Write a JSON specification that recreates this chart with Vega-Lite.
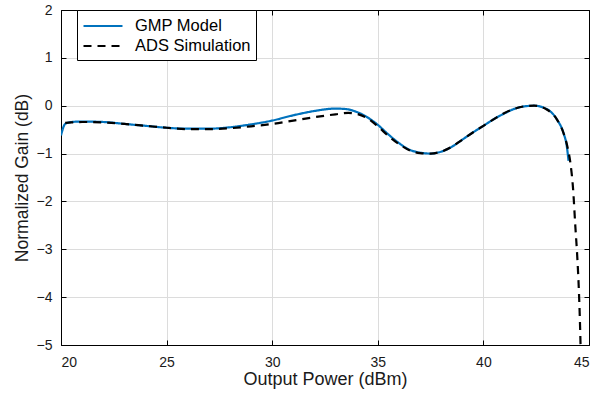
{
  "$schema": "https://vega.github.io/schema/vega-lite/v6.json",
  "autosize": {"type": "none"},
  "padding": {"left": 61, "top": 10, "right": 22, "bottom": 51},
  "width": 528,
  "height": 335,
  "background": "white",
  "config": {
    "font": "Liberation Sans",
    "view": {"stroke": "black", "strokeWidth": 1},
    "axis": {
      "labelFont": "Liberation Sans",
      "titleFont": "Liberation Sans",
      "labelFontSize": 14,
      "titleFontWeight": "normal",
      "labelColor": "#1a1a1a",
      "titleColor": "#1a1a1a",
      "domainColor": "black",
      "tickColor": "black",
      "gridColor": "#dcdcdc",
      "gridWidth": 1
    }
  },
  "data": {
    "values": [
      {"x": 20.0, "y": -0.62, "s": "GMP Model"},
      {"x": 20.2, "y": -0.38, "s": "GMP Model"},
      {"x": 20.5, "y": -0.34, "s": "GMP Model"},
      {"x": 21, "y": -0.33, "s": "GMP Model"},
      {"x": 22, "y": -0.34, "s": "GMP Model"},
      {"x": 23, "y": -0.38, "s": "GMP Model"},
      {"x": 24, "y": -0.42, "s": "GMP Model"},
      {"x": 25, "y": -0.46, "s": "GMP Model"},
      {"x": 26, "y": -0.48, "s": "GMP Model"},
      {"x": 27, "y": -0.48, "s": "GMP Model"},
      {"x": 28, "y": -0.45, "s": "GMP Model"},
      {"x": 29, "y": -0.39, "s": "GMP Model"},
      {"x": 30, "y": -0.31, "s": "GMP Model"},
      {"x": 31, "y": -0.2, "s": "GMP Model"},
      {"x": 32, "y": -0.11, "s": "GMP Model"},
      {"x": 33, "y": -0.06, "s": "GMP Model"},
      {"x": 33.5, "y": -0.07, "s": "GMP Model"},
      {"x": 34, "y": -0.13, "s": "GMP Model"},
      {"x": 34.5, "y": -0.24, "s": "GMP Model"},
      {"x": 35, "y": -0.4, "s": "GMP Model"},
      {"x": 35.5, "y": -0.6, "s": "GMP Model"},
      {"x": 36, "y": -0.78, "s": "GMP Model"},
      {"x": 36.5, "y": -0.92, "s": "GMP Model"},
      {"x": 37, "y": -0.98, "s": "GMP Model"},
      {"x": 37.5, "y": -1.0, "s": "GMP Model"},
      {"x": 38, "y": -0.96, "s": "GMP Model"},
      {"x": 38.5, "y": -0.86, "s": "GMP Model"},
      {"x": 39, "y": -0.71, "s": "GMP Model"},
      {"x": 39.5, "y": -0.56, "s": "GMP Model"},
      {"x": 40, "y": -0.42, "s": "GMP Model"},
      {"x": 40.5, "y": -0.28, "s": "GMP Model"},
      {"x": 41, "y": -0.16, "s": "GMP Model"},
      {"x": 41.5, "y": -0.06, "s": "GMP Model"},
      {"x": 42, "y": -0.01, "s": "GMP Model"},
      {"x": 42.4, "y": 0.0, "s": "GMP Model"},
      {"x": 43, "y": -0.07, "s": "GMP Model"},
      {"x": 43.5, "y": -0.3, "s": "GMP Model"},
      {"x": 43.8, "y": -0.58, "s": "GMP Model"},
      {"x": 43.95, "y": -0.85, "s": "GMP Model"},
      {"x": 44.03, "y": -1.15, "s": "GMP Model"},
      {"x": 20.2, "y": -0.36, "s": "ADS Simulation"},
      {"x": 20.5, "y": -0.35, "s": "ADS Simulation"},
      {"x": 21, "y": -0.34, "s": "ADS Simulation"},
      {"x": 22, "y": -0.35, "s": "ADS Simulation"},
      {"x": 23, "y": -0.38, "s": "ADS Simulation"},
      {"x": 24, "y": -0.42, "s": "ADS Simulation"},
      {"x": 25, "y": -0.46, "s": "ADS Simulation"},
      {"x": 26, "y": -0.49, "s": "ADS Simulation"},
      {"x": 27, "y": -0.49, "s": "ADS Simulation"},
      {"x": 28, "y": -0.47, "s": "ADS Simulation"},
      {"x": 29, "y": -0.43, "s": "ADS Simulation"},
      {"x": 30, "y": -0.38, "s": "ADS Simulation"},
      {"x": 31, "y": -0.31, "s": "ADS Simulation"},
      {"x": 32, "y": -0.24, "s": "ADS Simulation"},
      {"x": 33, "y": -0.18, "s": "ADS Simulation"},
      {"x": 33.6, "y": -0.15, "s": "ADS Simulation"},
      {"x": 34, "y": -0.17, "s": "ADS Simulation"},
      {"x": 34.5, "y": -0.26, "s": "ADS Simulation"},
      {"x": 35, "y": -0.43, "s": "ADS Simulation"},
      {"x": 35.5, "y": -0.63, "s": "ADS Simulation"},
      {"x": 36, "y": -0.8, "s": "ADS Simulation"},
      {"x": 36.5, "y": -0.93, "s": "ADS Simulation"},
      {"x": 37, "y": -0.99, "s": "ADS Simulation"},
      {"x": 37.5, "y": -1.0, "s": "ADS Simulation"},
      {"x": 38, "y": -0.96, "s": "ADS Simulation"},
      {"x": 38.5, "y": -0.86, "s": "ADS Simulation"},
      {"x": 39, "y": -0.71, "s": "ADS Simulation"},
      {"x": 39.5, "y": -0.56, "s": "ADS Simulation"},
      {"x": 40, "y": -0.42, "s": "ADS Simulation"},
      {"x": 40.5, "y": -0.28, "s": "ADS Simulation"},
      {"x": 41, "y": -0.15, "s": "ADS Simulation"},
      {"x": 41.5, "y": -0.06, "s": "ADS Simulation"},
      {"x": 42, "y": -0.01, "s": "ADS Simulation"},
      {"x": 42.4, "y": 0.0, "s": "ADS Simulation"},
      {"x": 43, "y": -0.08, "s": "ADS Simulation"},
      {"x": 43.5, "y": -0.3, "s": "ADS Simulation"},
      {"x": 43.8, "y": -0.58, "s": "ADS Simulation"},
      {"x": 44.0, "y": -0.9, "s": "ADS Simulation"},
      {"x": 44.12, "y": -1.2, "s": "ADS Simulation"},
      {"x": 44.25, "y": -1.76, "s": "ADS Simulation"},
      {"x": 44.35, "y": -2.5, "s": "ADS Simulation"},
      {"x": 44.45, "y": -3.2, "s": "ADS Simulation"},
      {"x": 44.52, "y": -3.85, "s": "ADS Simulation"},
      {"x": 44.57, "y": -4.5, "s": "ADS Simulation"},
      {"x": 44.6, "y": -5.0, "s": "ADS Simulation"}
    ]
  },
  "layer": [
    {
      "mark": {"type": "line", "interpolate": "monotone", "strokeWidth": 2.2, "clip": true},
      "encoding": {
        "x": {
          "field": "x", "type": "quantitative",
          "scale": {"domain": [20, 45], "nice": false, "zero": false},
          "axis": {"title": "Output Power (dBm)", "titleFontSize": 18, "values": [20, 25, 30, 35, 40, 45], "tickSize": -5, "labelPadding": 15, "titlePadding": 1, "grid": true}
        },
        "y": {
          "field": "y", "type": "quantitative",
          "scale": {"domain": [-5, 2], "nice": false, "zero": false},
          "axis": {"title": "Normalized Gain (dB)", "titleFontSize": 17.5, "values": [-5, -4, -3, -2, -1, 0, 1, 2], "tickSize": -5, "labelPadding": 14, "titlePadding": 5, "grid": true}
        },
        "color": {
          "field": "s", "type": "nominal",
          "sort": ["GMP Model", "ADS Simulation"],
          "scale": {"domain": ["GMP Model", "ADS Simulation"], "range": ["#0072BD", "#000000"]},
          "legend": {
            "title": null,
            "orient": "none",
            "legendX": 16,
            "legendY": 0,
            "symbolType": "M-2,0H2",
            "symbolSize": 380,
            "symbolOffset": 10,
            "symbolStrokeWidth": 2.2,
            "labelFontSize": 16.5,
            "labelFont": "Liberation Sans",
            "labelColor": "black",
            "labelOffset": 21,
            "strokeColor": "black",
            "fillColor": "white",
            "padding": 5,
            "rowPadding": -2
          }
        },
        "strokeDash": {
          "field": "s", "type": "nominal",
          "sort": ["GMP Model", "ADS Simulation"],
          "scale": {"domain": ["GMP Model", "ADS Simulation"], "range": [[1, 0], [8, 6]]},
          "legend": {
            "title": null,
            "orient": "none",
            "legendX": 16,
            "legendY": 0,
            "symbolType": "M-2,0H2",
            "symbolSize": 380,
            "symbolOffset": 10,
            "symbolStrokeWidth": 2.2,
            "labelFontSize": 16.5,
            "labelFont": "Liberation Sans",
            "labelColor": "black",
            "labelOffset": 21,
            "strokeColor": "black",
            "fillColor": "white",
            "padding": 5,
            "rowPadding": -2
          }
        },
        "order": {"field": "s", "type": "nominal", "sort": "descending"}
      }
    },
    {
      "mark": {"type": "rule", "opacity": 0},
      "encoding": {
        "x": {"datum": 20, "type": "quantitative", "axis": {"orient": "top", "title": null, "labels": false, "values": [20, 25, 30, 35, 40, 45], "tickSize": -5, "grid": false}},
        "y": {"datum": 0, "type": "quantitative", "axis": {"orient": "right", "title": null, "labels": false, "values": [-5, -4, -3, -2, -1, 0, 1, 2], "tickSize": -5, "grid": false}}
      }
    }
  ],
  "resolve": {"axis": {"x": "independent", "y": "independent"}}
}
